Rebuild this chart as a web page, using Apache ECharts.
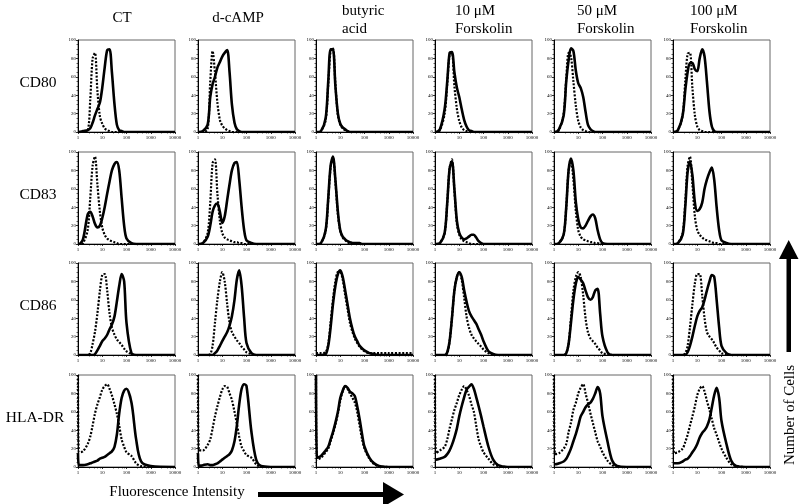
<!DOCTYPE html>
<html><head><meta charset="utf-8">
<script src="https://cdn.jsdelivr.net/npm/echarts@6.0.0/dist/echarts.min.js"></script>
<style>html,body{margin:0;padding:0;background:#fff}#c{width:800px;height:504px}</style>
</head><body><div id="c"></div>
<script>
// Fluorescence intensity sample points (log scale channel values)
const X = [1, 1.1, 1.6, 2.5, 3.2, 4, 5, 6.3, 8, 10, 12.6, 16, 20, 25, 32, 40, 50, 63, 80, 100, 160, 250, 400, 1000, 10000];
const xTicks = [1, 10, 100, 1000, 10000];
const yTicks = [0, 20, 40, 60, 80, 100];
const columns = ['CT', 'd-cAMP', 'butyric\nacid', '10 μM\nForskolin', '50 μM\nForskolin', '100 μM\nForskolin'];
const markers = ['CD80', 'CD83', 'CD86', 'HLA-DR'];
const xTitle = 'Fluorescence Intensity';
const yTitle = 'Number of Cells';

// CD80 (iso = dotted control, stn = solid stained)
const cd80_ct_iso    = [0,0,0,1,35,80,86,45,17,9,4,2,1,0,0,0,0,0,0,0,0,0,0,0,0];
const cd80_ct_stn    = [0,0,1,2,4,10,18,25,32,48,70,89,90,65,30,8,2,1,0,0,0,0,0,0,0];
const cd80_dcamp_iso = [0,0,0,3,55,88,65,32,13,7,4,2,1,0,0,0,0,0,0,0,0,0,0,0,0];
const cd80_dcamp_stn = [0,0,1,8,38,52,60,70,76,82,86,89,65,30,10,3,1,0,0,0,0,0,0,0,0];
const cd80_but_iso   = [0,0,1,13,52,88,91,52,18,8,4,2,1,0,0,0,0,0,0,0,0,0,0,0,0];
const cd80_but_stn   = [0,0,1,15,55,90,90,50,20,9,5,3,1,0,0,0,0,0,0,0,0,0,0,0,0];
const cd80_f10_iso   = [0,0,2,20,52,84,86,50,25,12,5,2,1,0,0,0,0,0,0,0,0,0,0,0,0];
const cd80_f10_stn   = [0,0,3,25,55,86,87,65,48,38,25,13,6,2,1,0,0,0,0,0,0,0,0,0,0];
const cd80_f50_iso   = [0,0,2,20,58,86,82,55,28,12,5,2,1,0,0,0,0,0,0,0,0,0,0,0,0];
const cd80_f50_stn   = [0,0,3,18,55,78,91,88,66,53,48,38,22,8,3,1,0,0,0,0,0,0,0,0,0];
const cd80_f100_iso  = [0,0,2,18,55,85,86,48,18,6,2,1,0,0,0,0,0,0,0,0,0,0,0,0,0];
const cd80_f100_stn  = [0,0,2,18,45,65,75,75,68,66,80,90,82,55,22,6,1,0,0,0,0,0,0,0,0];

// CD83
const cd83_ct_iso    = [0,0,1,15,50,85,95,65,35,18,10,6,4,3,2,1,0,0,0,0,0,0,0,0,0];
const cd83_ct_stn    = [0,0,5,32,35,30,22,18,20,28,40,55,68,80,87,89,80,50,20,6,1,0,0,0,0];
const cd83_dcamp_iso = [0,0,1,12,45,88,92,55,25,12,7,5,4,3,2,2,1,1,0,0,0,0,0,0,0];
const cd83_dcamp_stn = [0,0,1,8,20,35,42,44,35,23,30,48,65,80,88,89,70,40,15,4,1,0,0,0,0];
const cd83_but_iso   = [0,0,1,14,48,83,94,68,32,14,7,4,2,1,1,0,0,0,0,0,0,0,0,0,0];
const cd83_but_stn   = [0,0,1,15,50,85,95,70,35,15,8,5,3,2,1,1,1,1,0,0,0,0,0,0,0];
const cd83_f10_iso   = [0,0,1,12,45,82,92,58,22,10,5,3,2,1,0,0,0,0,0,0,0,0,0,0,0];
const cd83_f10_stn   = [0,0,1,12,45,82,90,60,25,12,7,5,6,8,10,10,7,3,1,0,0,0,0,0,0];
const cd83_f50_iso   = [0,0,1,10,40,80,90,70,35,15,8,5,4,3,2,2,1,1,0,0,0,0,0,0,0];
const cd83_f50_stn   = [0,0,1,10,40,80,93,80,45,27,18,17,20,25,30,32,28,15,5,1,0,0,0,0,0];
const cd83_f100_iso  = [0,0,1,12,45,85,95,65,30,15,10,7,5,4,3,2,1,1,0,0,0,0,0,0,0];
const cd83_f100_stn  = [0,0,1,10,40,78,90,75,45,36,38,45,60,70,78,83,70,40,15,4,1,0,0,0,0];

// CD86
const cd86_ct_iso    = [0,0,0,0,2,12,25,45,70,87,88,70,45,30,22,17,14,11,7,4,1,0,0,0,0];
const cd86_ct_stn    = [0,0,0,0,0,0,1,5,10,15,18,22,28,33,42,58,75,88,80,35,2,0,0,0,0];
const cd86_dcamp_iso = [0,0,0,0,1,10,35,60,80,90,80,55,35,25,20,16,13,9,6,3,1,0,0,0,0];
const cd86_dcamp_stn = [0,0,0,0,0,0,2,5,10,15,20,25,32,42,60,82,92,75,40,13,2,0,0,0,0];
const cd86_but_iso   = [2,2,2,3,12,35,60,80,90,90,82,65,50,35,25,18,13,9,6,4,2,2,2,2,2];
const cd86_but_stn   = [0,0,0,1,10,30,55,75,88,92,85,70,55,40,28,20,15,10,7,5,2,1,0,0,0];
const cd86_f10_iso   = [0,0,0,0,2,15,40,70,85,90,82,62,42,30,22,18,15,12,9,6,2,0,0,0,0];
const cd86_f10_stn   = [0,0,0,0,3,15,40,70,85,90,85,70,58,48,42,38,34,28,22,15,4,1,0,0,0];
const cd86_f50_iso   = [0,0,0,0,2,12,40,70,85,90,85,65,40,25,18,15,12,8,5,2,1,0,0,0,0];
const cd86_f50_stn   = [0,0,0,0,2,12,35,60,78,85,82,78,70,63,60,63,70,72,45,20,3,0,0,0,0];
const cd86_f100_iso  = [0,0,0,0,2,10,30,55,78,88,88,65,40,25,20,17,13,8,5,2,1,0,0,0,0];
const cd86_f100_stn  = [0,0,0,0,0,3,10,20,32,42,48,52,60,70,80,87,85,60,30,10,2,0,0,0,0];

// HLA-DR
const hla_ct_iso    = [100,16,17,25,33,45,58,68,76,84,88,90,85,78,68,58,45,30,22,16,12,4,1,0,0];
const hla_ct_stn    = [15,2,2,3,4,5,6,7,9,10,11,13,15,17,22,35,58,75,83,85,70,30,6,1,0];
const hla_dcamp_iso = [100,18,18,24,30,42,55,66,76,84,88,87,80,73,60,47,33,22,17,13,10,3,0,0,0];
const hla_dcamp_stn = [15,1,2,3,2,2,3,4,6,8,10,12,14,18,28,45,68,85,90,88,38,8,1,0,0];
const hla_but_iso   = [100,8,10,16,20,28,36,46,58,72,82,88,85,80,75,70,60,45,30,20,9,3,1,0,0];
const hla_but_stn   = [100,10,12,18,22,30,38,48,60,75,83,88,86,82,80,77,66,52,35,22,10,4,1,0,0];
const hla_f10_iso   = [100,15,18,22,30,42,52,62,70,78,84,88,84,78,68,60,45,30,22,16,9,3,1,0,0];
const hla_f10_stn   = [8,8,9,11,14,18,24,32,42,55,66,76,84,87,90,85,76,66,55,44,22,8,2,0,0];
const hla_f50_iso   = [100,14,15,20,25,38,48,62,70,80,86,90,80,70,58,48,38,28,22,16,7,2,0,0,0];
const hla_f50_stn   = [3,3,4,6,9,14,20,28,36,45,55,60,65,68,70,74,80,87,80,55,28,7,1,0,0];
const hla_f100_iso  = [100,15,16,20,27,35,45,55,66,78,85,88,82,72,62,52,42,35,27,20,10,3,1,0,0];
const hla_f100_stn  = [4,4,4,6,8,9,12,16,20,25,32,37,40,44,52,65,78,86,75,50,25,7,1,0,0];

const panels = [
  [[cd80_ct_iso,cd80_ct_stn],[cd80_dcamp_iso,cd80_dcamp_stn],[cd80_but_iso,cd80_but_stn],[cd80_f10_iso,cd80_f10_stn],[cd80_f50_iso,cd80_f50_stn],[cd80_f100_iso,cd80_f100_stn]],
  [[cd83_ct_iso,cd83_ct_stn],[cd83_dcamp_iso,cd83_dcamp_stn],[cd83_but_iso,cd83_but_stn],[cd83_f10_iso,cd83_f10_stn],[cd83_f50_iso,cd83_f50_stn],[cd83_f100_iso,cd83_f100_stn]],
  [[cd86_ct_iso,cd86_ct_stn],[cd86_dcamp_iso,cd86_dcamp_stn],[cd86_but_iso,cd86_but_stn],[cd86_f10_iso,cd86_f10_stn],[cd86_f50_iso,cd86_f50_stn],[cd86_f100_iso,cd86_f100_stn]],
  [[hla_ct_iso,hla_ct_stn],[hla_dcamp_iso,hla_dcamp_stn],[hla_but_iso,hla_but_stn],[hla_f10_iso,hla_f10_stn],[hla_f50_iso,hla_f50_stn],[hla_f100_iso,hla_f100_stn]]
];

// ---------- layout ----------
const LEFTS = [78, 198, 316, 435, 554, 673];
const TOPS = [40, 152, 263, 375];
const PW = 97, PH = 92;
const SERIF = '"Liberation Serif","Times New Roman",serif';

const grids = [], xAxes = [], yAxes = [], series = [];
let k = 0;
TOPS.forEach((top, r) => {
  LEFTS.forEach((left, c) => {
    grids.push({left, top, width: PW, height: PH, show: true, borderColor: '#666', borderWidth: 1, backgroundColor: 'transparent'});
    xAxes.push({
      type: 'log', logBase: 10, min: xTicks[0], max: xTicks[xTicks.length-1], splitNumber: 4, gridIndex: k,
      axisLine: {show: true, onZero: false, lineStyle: {color: '#000', width: 1}},
      axisTick: {show: true, length: 2, lineStyle: {color: '#000', width: 0.8}},
      minorTick: {show: true, splitNumber: 5, length: 1.5, lineStyle: {color: '#000', width: 0.6}},
      splitLine: {show: false},
      axisLabel: {fontSize: 5, margin: 3, color: '#000', fontFamily: SERIF, showMinLabel: true, showMaxLabel: true,
        formatter: v => String(Math.round(v))}
    });
    yAxes.push({
      type: 'value', min: yTicks[0], max: yTicks[yTicks.length-1], interval: 20, gridIndex: k,
      axisLine: {show: true, onZero: false, lineStyle: {color: '#000', width: 1}},
      axisTick: {show: true, length: 2, lineStyle: {color: '#000', width: 0.8}},
      minorTick: {show: true, splitNumber: 4, length: 1.5, lineStyle: {color: '#000', width: 0.6}},
      splitLine: {show: false},
      axisLabel: {fontSize: 5, margin: 2, color: '#000', fontFamily: SERIF}
    });
    const [iso, stn] = panels[r][c];
    series.push({
      type: 'line', xAxisIndex: k, yAxisIndex: k, data: X.map((x, i) => [x, iso[i]]),
      showSymbol: false, smooth: 0.3, silent: true,
      lineStyle: {color: '#000', width: 2.2, type: [2, 1.6]}
    });
    series.push({
      type: 'line', xAxisIndex: k, yAxisIndex: k, data: X.map((x, i) => [x, stn[i]]),
      showSymbol: false, smooth: 0.3, silent: true,
      lineStyle: {color: '#000', width: 2.6}
    });
    k++;
  });
});

const graphics = [];
const headerX = [122, 238, 342, 455, 577, 690];
columns.forEach((t, c) => {
  const two = t.indexOf('\n') >= 0;
  graphics.push({
    type: 'text', x: headerX[c], y: two ? 2 : 18,
    style: {text: t, font: '15px ' + SERIF, fill: '#000', textAlign: two ? 'left' : 'center',
      textVerticalAlign: two ? 'top' : 'middle', lineHeight: 18}
  });
});
const rowLabelX = [38, 38, 38, 35];
markers.forEach((t, r) => {
  graphics.push({
    type: 'text', x: rowLabelX[r], y: TOPS[r] + 43,
    style: {text: t, font: '15.5px ' + SERIF, fill: '#000', textAlign: 'center', textVerticalAlign: 'middle'}
  });
});
graphics.push({type: 'text', x: 177, y: 492,
  style: {text: xTitle, font: '15px ' + SERIF, fill: '#000', textAlign: 'center', textVerticalAlign: 'middle'}});
graphics.push({type: 'rect', shape: {x: 258, y: 492, width: 127, height: 5}, style: {fill: '#000'}});
graphics.push({type: 'polygon', shape: {points: [[383, 482], [404, 494.5], [383, 507]]}, style: {fill: '#000'}});
graphics.push({type: 'text', x: 790, y: 415, rotation: Math.PI / 2,
  style: {text: yTitle, font: '15px ' + SERIF, fill: '#000', textAlign: 'center', textVerticalAlign: 'middle'}});
graphics.push({type: 'rect', shape: {x: 786.5, y: 257, width: 4.5, height: 95}, style: {fill: '#000'}});
graphics.push({type: 'polygon', shape: {points: [[779, 259], [788.7, 240], [798.5, 259]]}, style: {fill: '#000'}});

const chart = echarts.init(document.getElementById('c'), null, {renderer: 'canvas'});
chart.setOption({
  animation: false,
  backgroundColor: '#fff',
  grid: grids, xAxis: xAxes, yAxis: yAxes, series: series,
  graphic: graphics
});
</script></body></html>
